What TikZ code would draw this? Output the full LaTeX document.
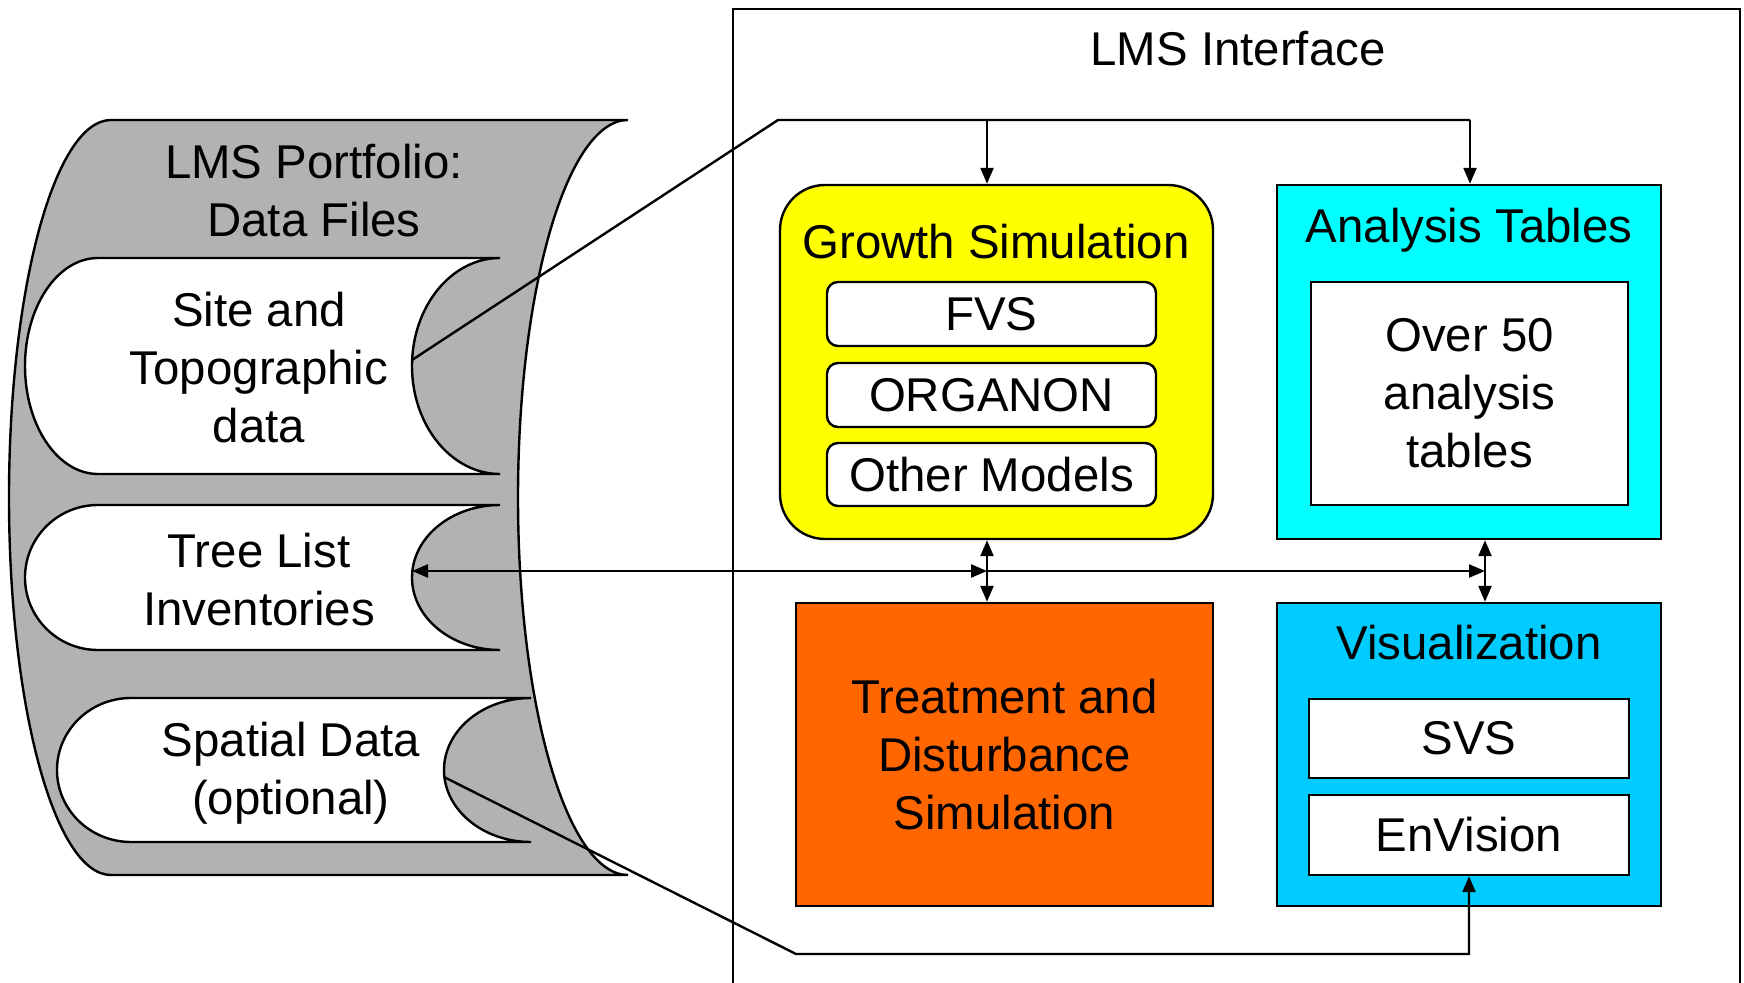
\documentclass[tikz,border=0pt]{standalone}
\usepackage{fontspec}
\setmainfont{Liberation Sans}
\usetikzlibrary{arrows.meta}
\definecolor{portgray}{HTML}{B2B2B2}
\definecolor{growyellow}{HTML}{FFFF00}
\definecolor{anacyan}{HTML}{00FFFF}
\definecolor{treatorange}{HTML}{FF6600}
\definecolor{visblue}{HTML}{00CCFF}
\begin{document}
\begin{tikzpicture}[x=0.5pt,y=-0.5pt,
  txt/.style={font=\fontsize{23.7}{29}\selectfont, align=center, inner sep=0pt},
  outl/.style={draw=black, line width=1.2pt},
  conn/.style={draw=black, line width=1.2pt},
  tipend/.style={-{Triangle[length=8pt,width=6.5pt]}},
  tipboth/.style={{Triangle[length=8pt,width=6.5pt]}-{Triangle[length=8pt,width=6.5pt]}},
  boxbig/.style={outl, inner sep=0pt},
]
\useasboundingbox (0,0) rectangle (1744,983);

% LMS Interface frame (open at bottom)
\draw[line width=1pt] (733,1000) -- (733,9) -- (1740,9) -- (1740,1000);
\node[txt] (lmsi) at (1238,49) {LMS Interface};

% Portfolio shape
\path[outl, fill=portgray] (111,120) -- (628,120)
  arc[start angle=-90, end angle=-270, x radius=110, y radius=377.5]
  -- (111,875)
  arc[start angle=90, end angle=270, x radius=102, y radius=377.5] -- cycle;
\node[txt] (portt) at (314,191) {LMS Portfolio:\\Data Files};

% Site and Topographic data
\path[outl, fill=white] (98,258) -- (500,258)
  arc[start angle=-90, end angle=-270, x radius=88, y radius=108]
  -- (98,474)
  arc[start angle=90, end angle=270, x radius=73, y radius=108] -- cycle;
\node[txt] (site) at (259,368) {Site and\\Topographic\\data};
\coordinate (siteR) at (412,360);

% Tree List Inventories
\path[outl, fill=white] (98,505) -- (500,505)
  arc[start angle=-90, end angle=-270, x radius=88, y radius=72.5]
  -- (98,650)
  arc[start angle=90, end angle=270, x radius=73, y radius=72.5] -- cycle;
\node[txt] (tree) at (259,580) {Tree List\\Inventories};
\coordinate (treeR) at (412,571);

% Spatial Data
\path[outl, fill=white] (131,698) -- (531,698)
  arc[start angle=-90, end angle=-270, x radius=87, y radius=72]
  -- (131,842)
  arc[start angle=90, end angle=270, x radius=74, y radius=72] -- cycle;
\node[txt] (spat) at (291,773) {Spatial Data\\(optional)};
\coordinate (spatR) at (444,777);

% Growth Simulation
\node[boxbig, fill=growyellow, rounded corners=22.5pt, minimum width=216.5pt, minimum height=177pt] (grow) at (996.5,362) {};
\node[txt] (growt) at (996,242) {Growth Simulation};
\node[boxbig, txt, fill=white, rounded corners=5.5pt, minimum width=164.5pt, minimum height=32pt] (fvs) at (991.5,314) {FVS};
\node[boxbig, txt, fill=white, rounded corners=5.5pt, minimum width=164.5pt, minimum height=32pt] (org) at (991.5,395) {ORGANON};
\node[boxbig, txt, fill=white, rounded corners=5.5pt, minimum width=164.5pt, minimum height=31.5pt] (oth) at (991.5,474.5) {Other Models};

% Analysis Tables
\node[boxbig, fill=anacyan, minimum width=192pt, minimum height=177pt] (ana) at (1469,362) {};
\node[txt] (anat) at (1469,230) {Analysis Tables};
\node[boxbig, txt, fill=white, minimum width=158.5pt, minimum height=111.5pt] (over) at (1469.5,393.5) {Over 50\\analysis\\tables};

% Treatment
\node[boxbig, txt, fill=treatorange, minimum width=208.5pt, minimum height=151.5pt] (treat) at (1004.5,754.5) {Treatment and\\Disturbance\\Simulation};

% Visualization
\node[boxbig, fill=visblue, minimum width=192pt, minimum height=151.5pt] (vis) at (1469,754.5) {};
\node[txt] (vist) at (1469,643) {Visualization};
\node[boxbig, txt, fill=white, minimum width=160pt, minimum height=39.5pt] (svs) at (1469,738.5) {SVS};
\node[boxbig, txt, fill=white, minimum width=160pt, minimum height=40pt] (env) at (1469,835) {EnVision};

% Connectors
\coordinate (topc) at (778,120);
\coordinate (jg) at (987,120);
\coordinate (ja) at (1470,120);
\draw[conn] (siteR) -- (topc) -- (ja);
\draw[conn, tipend] (jg) -- (jg |- grow.north);
\draw[conn, tipend] (ja) -- (ja |- ana.north);

\coordinate (hg) at (987,571);
\coordinate (ha) at (1485,571);
\draw[conn, tipboth] (treeR) -- (hg);
\draw[conn, tipend] (hg) -- (ha);
\draw[conn, tipboth] (hg |- grow.south) -- (hg |- treat.north);
\draw[conn, tipboth] (ha |- ana.south) -- (ha |- vis.north);

\coordinate (b1) at (796,954);
\coordinate (b2) at (1469,954);
\draw[conn, tipend] (spatR) -- (b1) -- (b2) -- (env.south);
\end{tikzpicture}
\end{document}
